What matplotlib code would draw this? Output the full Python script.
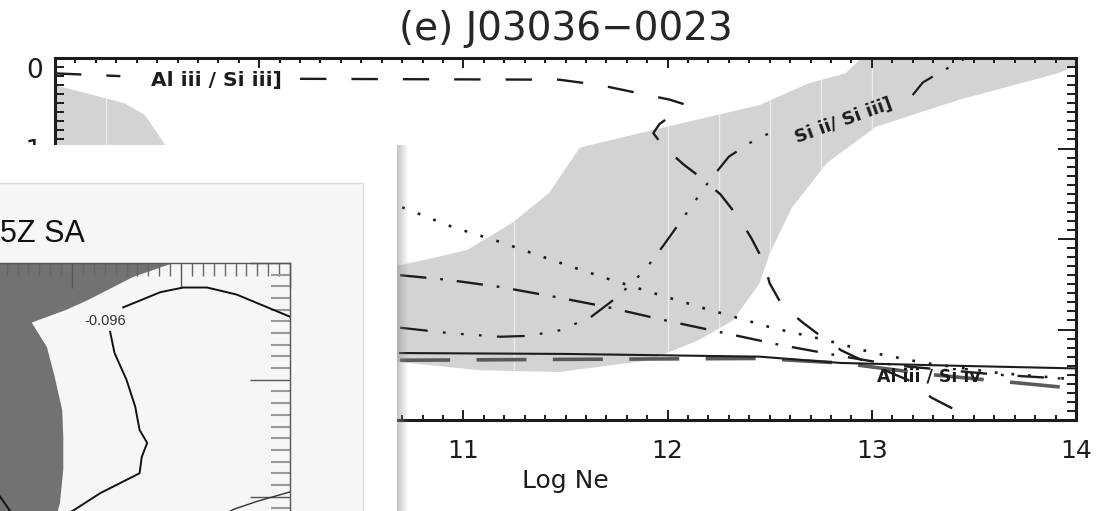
import numpy as np
import matplotlib
matplotlib.use("Agg")
import matplotlib.pyplot as plt
from matplotlib.patches import Rectangle
from matplotlib.ticker import MultipleLocator

plt.rcParams['lines.scale_dashes'] = False
plt.rcParams['font.family'] = ['DejaVu Sans']

# ---------------- main panel: line ratios vs. log electron density ----------------
title = "(e) J03036\u22120023"
x_label = "Log Ne"
x_ticks = [9, 10, 11, 12, 13, 14]
y_ticks = [0, -1, -2, -3, -4]

# allowed (grey) region
band_upper_x = [9.00, 9.34, 9.44, 9.54, 10.69, 10.85, 11.02, 11.24, 11.42, 11.57,
                11.92, 12.45, 12.69, 12.87, 12.95, 14.00]
band_upper_y = [-0.30, -0.50, -0.63, -0.96, -2.29, -2.21, -2.12, -1.82, -1.49, -0.99,
                -0.80, -0.52, -0.28, -0.17, 0.00, 0.00]
band_lower_x = [14.00, 13.91, 13.43, 13.02, 12.78, 12.61, 12.50, 12.45, 12.32, 12.15,
                11.91, 11.47, 11.08, 10.69, 9.00]
band_lower_y = [-0.09, -0.17, -0.46, -0.76, -1.16, -1.65, -2.16, -2.49, -2.90, -3.12,
                -3.34, -3.47, -3.45, -3.36, -3.10]
band_seams = [9.25, 11.25, 12.0, 12.25, 12.5, 12.75, 13.0]

# Al III / Si III]
al3_si3_x = [9.00, 9.32, 10.20, 11.47, 11.67, 11.86, 12.01, 12.08, 12.04, 11.96, 11.93,
             11.98, 12.08, 12.18, 12.26, 12.35, 12.41, 12.47, 12.50, 12.56, 12.66, 12.76,
             12.85, 12.99, 13.20, 13.29, 13.41, 13.50]
al3_si3_y = [-0.17, -0.20, -0.23, -0.24, -0.30, -0.39, -0.46, -0.51, -0.60, -0.73, -0.83,
             -0.98, -1.18, -1.35, -1.51, -1.77, -1.99, -2.25, -2.49, -2.73, -2.92, -3.09,
             -3.23, -3.38, -3.58, -3.75, -3.89, -4.00]

# Si II / Si III]
si2_si3_x = [10.69, 10.93, 11.18, 11.32, 11.47, 11.62, 11.76, 11.89, 11.98, 12.11, 12.20,
             12.30, 12.45, 12.55, 13.20, 13.25, 13.31, 13.46]
si2_si3_y = [-2.98, -3.04, -3.08, -3.07, -3.01, -2.87, -2.63, -2.34, -2.07, -1.66, -1.37,
             -1.09, -0.87, -0.80, -0.41, -0.27, -0.19, 0.00]

# dotted ratio
dotted_x = [10.70, 10.95, 11.19, 11.43, 11.68, 11.92, 12.17, 12.51, 12.78, 13.01, 13.26,
            13.62, 13.99]
dotted_y = [-1.65, -1.87, -2.04, -2.23, -2.42, -2.59, -2.76, -2.98, -3.12, -3.26, -3.37,
            -3.48, -3.55]

# dash-dot ratio
dashdot_x = [10.69, 10.92, 11.18, 11.45, 11.70, 11.99, 12.28, 12.55, 12.84, 13.13, 13.62, 13.99]
dashdot_y = [-2.40, -2.45, -2.53, -2.64, -2.75, -2.90, -3.04, -3.17, -3.29, -3.40, -3.50, -3.55]

# solid ratio
solid_x = [10.69, 11.50, 12.45, 12.85, 13.40, 14.00]
solid_y = [-3.26, -3.27, -3.30, -3.37, -3.40, -3.43]

# Al III / Si IV (thick grey dashes)
al3_si4_x = [10.69, 11.50, 12.45, 12.85, 13.30, 13.99]
al3_si4_y = [-3.34, -3.33, -3.32, -3.37, -3.50, -3.65]

# ---------------- overlaid panel (0.5Z SA contours) ----------------
inset_title = "5Z SA"
dark_x = [-4.00, -1.07, -1.44, -1.86, -2.05, -2.37, -2.23, -2.16, -2.09, -2.08, -2.08,
          -2.11, -2.20, -2.25, -4.00]
dark_y = [0.00, 0.00, -0.12, -0.32, -0.40, -0.51, -0.72, -0.97, -1.26, -1.49, -1.77,
          -2.05, -2.37, -2.50, -2.50]
contour_level = "-0.096"
contour_x = [0.00, -0.49, -0.76, -0.98, -1.19, -1.53, -1.65, -1.61, -1.50, -1.42, -1.38,
             -1.31, -1.36, -1.38, -1.74, -1.99, -2.16]
contour_y = [-0.46, -0.27, -0.21, -0.21, -0.25, -0.38, -0.59, -0.77, -1.00, -1.23, -1.43,
             -1.54, -1.66, -1.80, -1.97, -2.12, -2.20]
contour2_x = [-2.71, -2.66, -2.57, -2.48]
contour2_y = [-1.94, -2.00, -2.12, -2.20]
contour3_x = [0.00, -0.30, -0.52, -0.69]
contour3_y = [-1.96, -2.04, -2.11, -2.20]

W, H = 1118, 511
fig = plt.figure(figsize=(W / 100, H / 100), dpi=100)
fig.patch.set_facecolor('white')


def frac(left, top, right, bottom):
    return [left / W, 1 - bottom / H, (right - left) / W, (bottom - top) / H]


ink = '#1c1c1c'
ax = fig.add_axes(frac(55, 58, 1076, 420), zorder=1)
ax.set_xlim(9, 14)
ax.set_ylim(-4, 0)

poly = ax.fill(band_upper_x + band_lower_x, band_upper_y + band_lower_y,
               color='#d3d3d3', lw=0, zorder=1)[0]
for xs in band_seams:
    seam = ax.axvline(xs, color='white', lw=0.9, alpha=0.55, zorder=1.5)
    seam.set_clip_path(poly)


def split_plot(x, y, gap_lo, gap_hi, **kw):
    x = np.asarray(x)
    y = np.asarray(y)
    left = x <= gap_lo
    right = x >= gap_hi
    ax.plot(x[left], y[left], **kw)
    ax.plot(x[right], y[right], **kw)


split_plot(al3_si3_x, al3_si3_y, 9.36, 10.16, color=ink, lw=1.7,
           dashes=(19, 18), zorder=3)
split_plot(si2_si3_x, si2_si3_y, 12.56, 13.19, color=ink, lw=1.6,
           dashes=(20, 11, 2, 11, 2, 11, 2, 11), zorder=3)
ax.plot(dotted_x, dotted_y, color=ink, lw=1.9, dashes=(2, 10), zorder=3)
ax.plot(dashdot_x, dashdot_y, color=ink, lw=1.7, dashes=(19, 10, 2, 10), zorder=3)
ax.plot(solid_x, solid_y, color=ink, lw=1.5, zorder=3)
ax.plot(al3_si4_x, al3_si4_y, color='#5a5a5a', lw=2.6, dashes=(36, 19), zorder=2.5)

ax.text(9.79, -0.245, "Al iii / Si iii]", ha='center', va='center', fontsize=14.5,
        fontweight='bold', color=ink, zorder=4)
ax.text(12.86, -0.69, "Si ii/ Si iii]", ha='center', va='center', fontsize=13,
        fontweight='bold', color=ink, rotation=20, rotation_mode='anchor', zorder=4)
ax.text(13.28, -3.52, "Al iii / Si iv", ha='center', va='center', fontsize=12.5,
        fontweight='bold', color=ink, zorder=4)

ax.set_xticks(x_ticks, [str(v) for v in x_ticks])
ax.set_yticks(y_ticks, [str(v) for v in y_ticks])
ax.xaxis.set_minor_locator(MultipleLocator(0.1))
ax.yaxis.set_minor_locator(MultipleLocator(0.1))
ax.tick_params(which='both', direction='in', top=True, right=True, color=ink,
               labelcolor=ink)
ax.tick_params(axis='x', which='major', length=7, width=1.4, pad=14, labelsize=18)
ax.tick_params(axis='x', which='minor', length=3.5, width=1.4)
ax.tick_params(axis='y', which='major', length=13, width=1.4, pad=9, labelsize=19)
ax.tick_params(axis='y', which='minor', length=6.5, width=1.4)
for val, lab in zip(y_ticks, ax.get_yticklabels()):
    if val == 0:
        lab.set_va('top')
    elif val < -1:
        # these labels sit entirely beneath the overlaid panel
        lab.set_visible(False)
for s in ax.spines.values():
    s.set_linewidth(2.2)
    s.set_color(ink)
ax.set_xlabel(x_label, fontsize=18, labelpad=4, color=ink)
fig.text(565.5 / W, 1 - 40 / H, title, ha='center', va='baseline', fontsize=28,
         color='#262626')

# ---------------- overlaid panel ----------------
bg = fig.add_axes(frac(0, 145, 397, 511), zorder=5)
bg.set_xlim(0, 397)
bg.set_ylim(511, 145)
bg.set_facecolor('white')
bg.set_xticks([])
bg.set_yticks([])
for s in bg.spines.values():
    s.set_visible(False)
bg.add_patch(Rectangle((-5, 183), 368, 340, facecolor='#f6f6f6', edgecolor='#dcdcdc',
                       lw=1.0))
bg.text(0, 242, inset_title, ha='left', va='baseline', fontsize=22,
        family=['Liberation Sans', 'DejaVu Sans'], color='#111111')

inner = fig.add_axes(frac(-146, 263, 290, 555), zorder=6)
inner.set_facecolor('#f6f6f6')
inner.set_xlim(-4, 0)
inner.set_ylim(-2.5, 0)
inner.fill(dark_x, dark_y, color='#727272', lw=0, zorder=1)
inner.plot(contour_x[:6], contour_y[:6], color='#111111', lw=1.4, zorder=3)
inner.plot(contour_x[6:], contour_y[6:], color='#111111', lw=1.4, zorder=3)
inner.plot(contour2_x, contour2_y, color='#111111', lw=1.4, zorder=3)
inner.plot(contour3_x, contour3_y, color='#333333', lw=1.0, zorder=3)
inner.text(-1.70, -0.50, contour_level, ha='center', va='center', fontsize=10.5,
           family=['Liberation Sans', 'DejaVu Sans'], color='#333333', zorder=4)
inner.xaxis.set_major_locator(MultipleLocator(1))
inner.xaxis.set_minor_locator(MultipleLocator(0.1))
inner.yaxis.set_major_locator(MultipleLocator(1))
inner.yaxis.set_minor_locator(MultipleLocator(0.1))
inner.tick_params(which='both', direction='in', top=True, bottom=False, left=False,
                  right=True, labeltop=False, labelbottom=False, labelleft=False,
                  labelright=False)
inner.tick_params(axis='x', which='major', length=18, width=1.0, color='#555555')
inner.tick_params(axis='x', which='minor', length=9, width=1.0, color='#666666')
inner.tick_params(axis='y', which='major', length=29, width=1.0, color='#555555')
inner.tick_params(axis='y', which='minor', length=14, width=1.5, color='#9a9a9a')
for side, s in inner.spines.items():
    if side in ('top', 'right'):
        s.set_color('#555555')
        s.set_linewidth(1.0)
    else:
        s.set_visible(False)

# soft edge shadow on the right side of the overlaid panel
sh = fig.add_axes(frac(397, 145, 409, 511), zorder=7)
grad = np.zeros((1, 12, 4))
grad[..., :3] = 0.55
grad[..., 3] = np.linspace(0.5, 0.0, 12)
sh.imshow(grad, aspect='auto', interpolation='bilinear', extent=(0, 1, 0, 1))
sh.set_xticks([])
sh.set_yticks([])
sh.patch.set_alpha(0)
for s in sh.spines.values():
    s.set_visible(False)

fig.savefig('out.png', dpi=100)
